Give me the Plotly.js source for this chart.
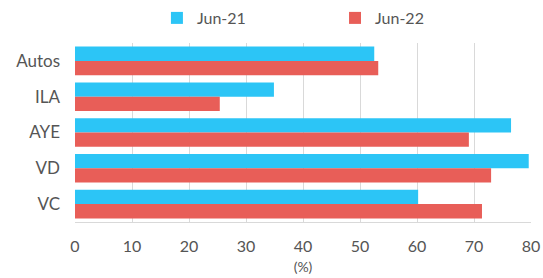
<!DOCTYPE html>
<html><head><meta charset="utf-8">
<script src="https://cdn.plot.ly/plotly-3.0.1.min.js"></script>
<style>html,body{margin:0;padding:0;background:#fff;}#chart{width:543px;height:278px;}</style>
</head><body><div id="chart"></div>
<script>
const categories = ["Autos", "ILA", "AYE", "VD", "VC"];
const jun21 = [52.5, 34.9, 76.5, 79.6, 60.2];
const jun22 = [53.2, 25.4, 69.1, 73.0, 71.4];
const seriesNames = ["Jun-21", "Jun-22"];
const xTicks = [0, 10, 20, 30, 40, 50, 60, 70, 80];

const fam = "Lato, 'Open Sans', sans-serif";
const legFont = {family: fam, size: 16, color: "#555"};
const data = [
  {type: "bar", orientation: "h", name: seriesNames[0], y: categories, x: jun21, marker: {color: "#2CC5F6"}, legend: "legend"},
  {type: "bar", orientation: "h", name: seriesNames[1], y: categories, x: jun22, marker: {color: "#E85E58"}, legend: "legend2"}
];
const layout = {
  width: 543, height: 278,
  margin: {l: 75, r: 12, t: 43, b: 56},
  font: {family: fam, size: 16, color: "#555"},
  barmode: "group", bargap: 0.2, bargroupgap: 0,
  paper_bgcolor: "#fff", plot_bgcolor: "#fff",
  showlegend: true,
  legend: {orientation: "h", xref: "container", yref: "container", x: 0.289, xanchor: "left", y: 1 - 18/278, yanchor: "middle",
           font: legFont, itemwidth: 30, bgcolor: "rgba(0,0,0,0)"},
  legend2: {orientation: "h", xref: "container", yref: "container", x: 0.617, xanchor: "left", y: 1 - 18/278, yanchor: "middle",
           font: legFont, itemwidth: 30, bgcolor: "rgba(0,0,0,0)"},
  xaxis: {range: [0, 80], tickvals: xTicks, ticktext: xTicks.map(String), showgrid: true, gridcolor: "#d9d9d9",
          zeroline: false, showline: true, linecolor: "#d9d9d9", ticks: "", ticklabelstandoff: 10,
          title: {text: "(%)", font: {size: 14, color: "#555"}, standoff: 7}, tickfont: {size: 16}, fixedrange: true},
  yaxis: {autorange: "reversed", showgrid: false, showline: false, ticks: "", ticklabelstandoff: 14, tickfont: {size: 17}}
};
Plotly.newPlot("chart", data, layout, {displayModeBar: false, staticPlot: true});
</script></body></html>
